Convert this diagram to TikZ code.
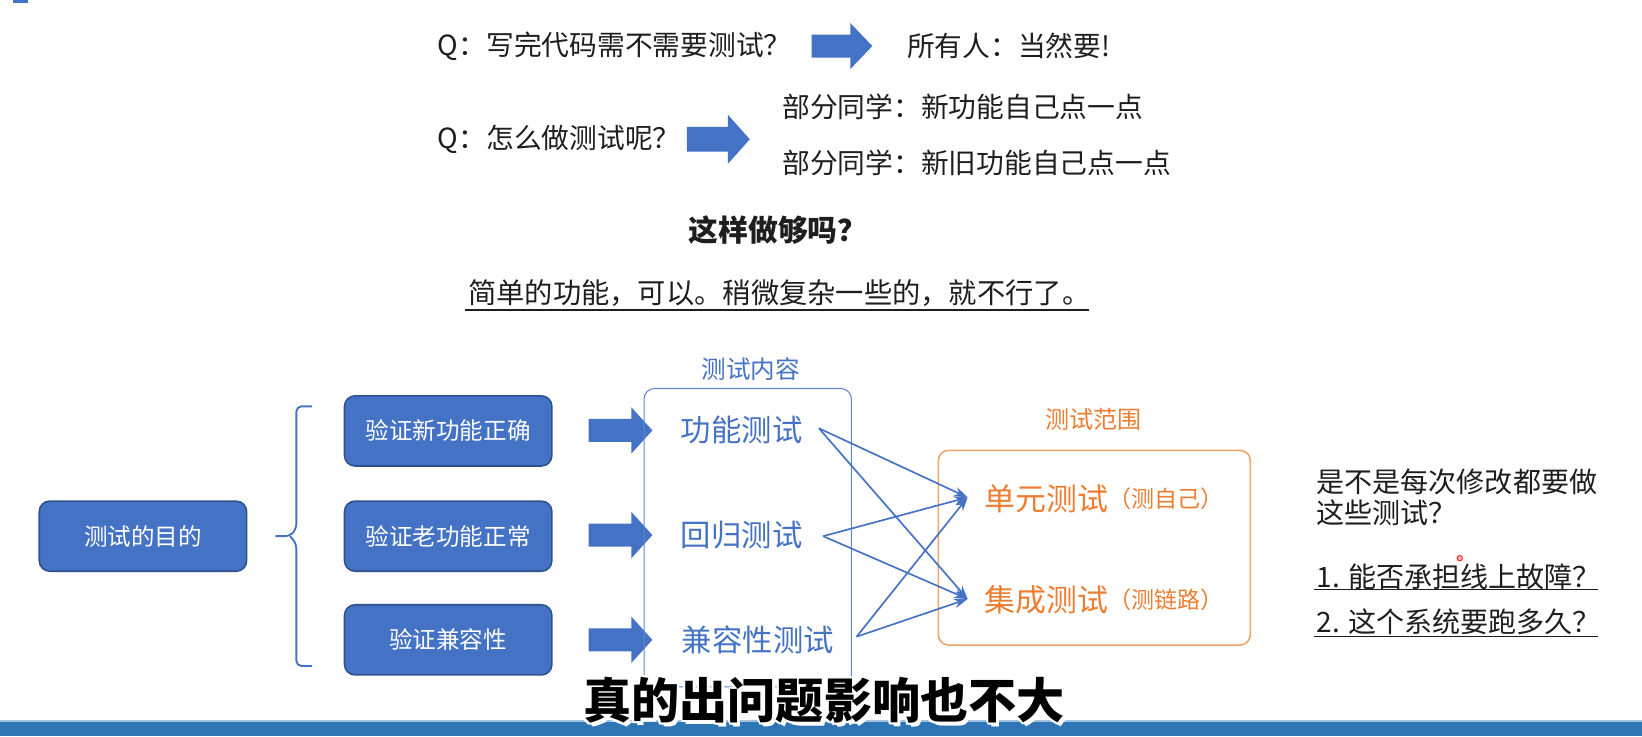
\documentclass[tikz,border=0pt]{standalone}
\usepackage{fontspec}
\setmainfont{Noto Sans CJK SC}
\usetikzlibrary{arrows.meta}
\definecolor{boxblue}{HTML}{4472C4}
\definecolor{boxedge}{HTML}{2F528F}
\definecolor{orng}{HTML}{ED7D31}
\definecolor{orngedge}{HTML}{F0A366}
\definecolor{barblue}{HTML}{2E75B6}
\definecolor{txtgray}{HTML}{1E1E1E}
\newcommand\fsz[1]{\fontsize{#1}{#1}\selectfont}
\newcommand\blockarr[5]{% x1, xtip, xhead, yc, halfhead
  \fill[boxblue] (#1,#4-0.5*#5) -- (#3,#4-0.5*#5) -- (#3,#4-#5) -- (#2,#4) -- (#3,#4+#5) -- (#3,#4+0.5*#5) -- (#1,#4+0.5*#5) -- cycle;}
\begin{document}
\begin{tikzpicture}[x=1pt,y=-1pt,
  plain/.style={anchor=west,inner sep=0pt,text=txtgray,font=\fsz{26.5}},
  purpose/.style={draw=boxedge,line width=1.5pt,fill=boxblue,rounded corners=10pt,text=white,font=\fsz{22.5},minimum width=198pt,minimum height=67pt,inner sep=0pt},
  content/.style={anchor=west,inner sep=0pt,text=boxblue,font=\fsz{29}},
  scope/.style={anchor=west,inner sep=0pt,text=orng,font=\fsz{29.5}},
  scopenote/.style={anchor=west,inner sep=0pt,text=orng,font=\fsz{22}},
  conn/.style={draw=boxblue,line width=1.6pt,-{Stealth[length=13pt,width=9pt]}},
  subt/.style={inner sep=0pt,font=\fsz{46}\bfseries}
]
\useasboundingbox (0,0) rectangle (1568,703);
\fill[boxblue] (12.4,0) rectangle (26.7,2.9);
% top section
\node[plain] (q1) at (418,44) {Q：写完代码需不需要测试？};
\blockarr{775}{833}{812}{44}{22}
\node[plain] (a1) at (866,44) {所有人：当然要!};
\node[plain] (a2) at (747,102) {部分同学：新功能自己点一点};
\node[plain] (q2) at (418,133) {Q：怎么做测试呢？};
\blockarr{656}{716}{695}{133}{23.5}
\node[plain] (a3) at (747,156) {部分同学：新旧功能自己点一点};
\node[inner sep=0pt,text=txtgray,font=\fsz{28.5}\bfseries] (ask) at (743,220) {这样做够吗？};
\node[plain,font=\fsz{27}] (ans) at (447,280) {简单的功能，可以。稍微复杂一些的，就不行了。};
\draw[txtgray,line width=1.5pt] (444,296) -- (1040,296);
% purpose
\node[purpose] (goal) at (136.5,512) {测试的目的};
\draw[boxblue,line width=1.8pt,rounded corners=5pt] (298,388) -- (283,388) -- (283,505) -- (277,512) -- (263,512);
\draw[boxblue,line width=1.8pt,rounded corners=5pt] (298,636) -- (283,636) -- (283,519) -- (277,512);
\node[purpose] (p1) at (428,411.5) {验证新功能正确};
\node[purpose] (p2) at (428,512) {验证老功能正常};
\node[purpose] (p3) at (428,611) {验证兼容性};
\blockarr{562}{623}{603}{411}{22}
\blockarr{562}{623}{603}{511}{22}
\blockarr{562}{623}{603}{611}{22}
% content
\node[inner sep=0pt,text=boxblue,font=\fsz{23.5}] (ctitle) at (717,352) {测试内容};
\draw[boxblue!85,line width=1pt,rounded corners=10pt] (615,371) rectangle (813,656);
\node[content] (c1) at (650,411) {功能测试};
\node[content] (c2) at (650,511) {回归测试};
\node[content] (c3) at (651,611) {兼容性测试};
% scope
\node[inner sep=0pt,text=orng,font=\fsz{23}] (stitle) at (1044,400) {测试范围};
\draw[orngedge,line width=1.5pt,rounded corners=10pt] (896,430) rectangle (1194,616);
\node[scope] (u) at (940,476) {单元测试};
\node[scopenote] (un) at (u.east) {（测自己）};
\node[scope] (i) at (940,573) {集成测试};
\node[scopenote] (inote) at (i.east) {（测链路）};
\coordinate (s1) at (782,409);
\coordinate (s2) at (786,512);
\coordinate (s3) at (818,608);
\coordinate (tu) at (924,475);
\coordinate (ti) at (924,572);
\foreach \s in {s1,s2,s3}{\draw[conn] (\s) -- (tu); \draw[conn] (\s) -- (ti);}
% right questions
\node[plain,font=\fsz{26.8}] (r1) at (1257,460) {是不是每次修改都要做};
\node[plain,font=\fsz{26.8}] (r2) at (1257,490) {这些测试？};
\node[plain,font=\fsz{26.8}] (r3) at (1257,551) {1. 能否承担线上故障？};
\draw[txtgray,line width=1.5pt] (1255,563) -- (1526,563);
\node[plain,font=\fsz{26.8}] (r4) at (1257,594) {2. 这个系统要跑多久？};
\draw[txtgray,line width=1.5pt] (1255,608) -- (1526,608);
\draw[red!85,line width=1pt,fill=red!25] (1394,533) circle (2.5);
% bottom bar
\fill[barblue!45] (0,687.5) rectangle (1568,689.5);
\fill[barblue] (0,689.5) rectangle (1568,703);
% subtitle
\foreach \dx/\dy in {-2/0,2/0,0/-2,0/2,-1.5/-1.5,1.5/-1.5,-1.5/1.5,1.5/1.5,3/3}{\node[subt,text=white] at (787+\dx,669+\dy) {真的出问题影响也不大};}
\node[subt,text=black] (sub) at (787,669) {真的出问题影响也不大};
\end{tikzpicture}
\end{document}
